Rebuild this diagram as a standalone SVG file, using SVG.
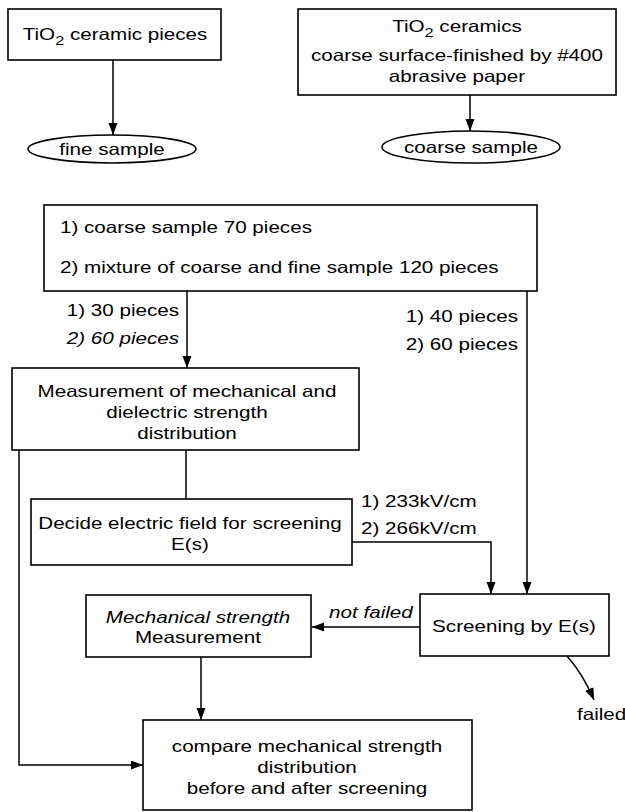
<svg xmlns="http://www.w3.org/2000/svg" width="625" height="812" viewBox="0 0 625 812">
<defs>
<marker id="ah" markerUnits="userSpaceOnUse" markerWidth="13" markerHeight="10" refX="12" refY="4.5" orient="auto">
<path d="M0,0 L12,4.5 L0,9 z" fill="#000"/>
</marker>
<style>
.b { fill: #fff; stroke: #000; stroke-width: 1.6; }
.c { fill: none; stroke: #000; stroke-width: 1.5; }
.a { marker-end: url(#ah); }
text { font-family: "Liberation Sans", Arial, sans-serif; font-size: 16.5px; fill: #000;
       transform-box: fill-box; transform-origin: left center; transform: scale(1.25, 1); }
.m { text-anchor: middle; transform-origin: center; }
.e { text-anchor: end; transform-origin: right center; }
.i { font-style: italic; }
.sub { font-size: 13px; }
</style>
</defs>
<rect width="625" height="812" fill="#fff"/>

<g id="connectors">
<line class="c a" x1="113" y1="60" x2="113" y2="135"/>
<line class="c a" x1="470" y1="95" x2="470" y2="131"/>
<line class="c a" x1="187" y1="291" x2="187" y2="368"/>
<line class="c a" x1="527" y1="291" x2="527" y2="594"/>
<line class="c" x1="186" y1="450" x2="186" y2="499"/>
<polyline class="c a" points="352,542 491,542 491,594"/>
<line class="c a" x1="420" y1="627" x2="312" y2="627"/>
<line class="c a" x1="201" y1="657" x2="201" y2="720"/>
<path class="c a" d="M567,656 Q583,674 594,700"/>
<polyline class="c a" points="19,450 19,765 143,765"/>
</g>

<g id="n1">
<rect class="b" x="8" y="9" width="213" height="51"/>
<text class="m" x="115" y="40">TiO<tspan class="sub" dy="5">2</tspan><tspan dy="-5"> ceramic pieces</tspan></text>
</g>
<g id="n2">
<ellipse class="b" cx="112" cy="149" rx="84" ry="14"/>
<text class="m" x="112" y="155">fine sample</text>
</g>
<g id="n3">
<rect class="b" x="298" y="9" width="318" height="86"/>
<text class="m" x="457" y="32">TiO<tspan class="sub" dy="5">2</tspan><tspan dy="-5"> ceramics</tspan></text>
<text class="m" x="457" y="61">coarse surface-finished by #400</text>
<text class="m" x="457" y="82">abrasive paper</text>
</g>
<g id="n4">
<ellipse class="b" cx="471" cy="147" rx="89" ry="16"/>
<text class="m" x="471" y="153">coarse sample</text>
</g>
<g id="n5">
<rect class="b" x="44" y="205" width="493" height="86"/>
<text x="60" y="233">1) coarse sample 70 pieces</text>
<text x="60" y="273">2) mixture of coarse and fine sample 120 pieces</text>
</g>
<g id="l1">
<text class="e" x="179" y="316">1) 30 pieces</text>
<text class="e i" x="179" y="344">2) 60 pieces</text>
<text class="e" x="518" y="322">1) 40 pieces</text>
<text class="e" x="518" y="350">2) 60 pieces</text>
</g>
<g id="n6">
<rect class="b" x="12" y="368" width="347" height="82"/>
<text class="m" x="187" y="397">Measurement of mechanical and</text>
<text class="m" x="187" y="418">dielectric strength</text>
<text class="m" x="187" y="439">distribution</text>
</g>
<g id="n7">
<rect class="b" x="31" y="499" width="321" height="66"/>
<text class="m" x="190" y="529">Decide electric field for screening</text>
<text class="m" x="190" y="550">E(s)</text>
</g>
<g id="l2">
<text x="361" y="507">1) 233kV/cm</text>
<text x="361" y="534">2) 266kV/cm</text>
</g>
<g id="n8">
<rect class="b" x="420" y="594" width="189" height="62"/>
<text class="m" x="514" y="632">Screening by E(s)</text>
</g>
<g id="n9">
<rect class="b" x="86" y="595" width="225" height="62"/>
<text class="m i" x="198" y="623">Mechanical strength</text>
<text class="m" x="198" y="643">Measurement</text>
</g>
<g id="l3">
<text class="i m" x="371" y="618">not failed</text>
<text x="577" y="720">failed</text>
</g>
<g id="n10">
<rect class="b" x="143" y="720" width="329" height="90"/>
<text class="m" x="307" y="752">compare mechanical strength</text>
<text class="m" x="307" y="773">distribution</text>
<text class="m" x="307" y="794">before and after screening</text>
</g>
</svg>
